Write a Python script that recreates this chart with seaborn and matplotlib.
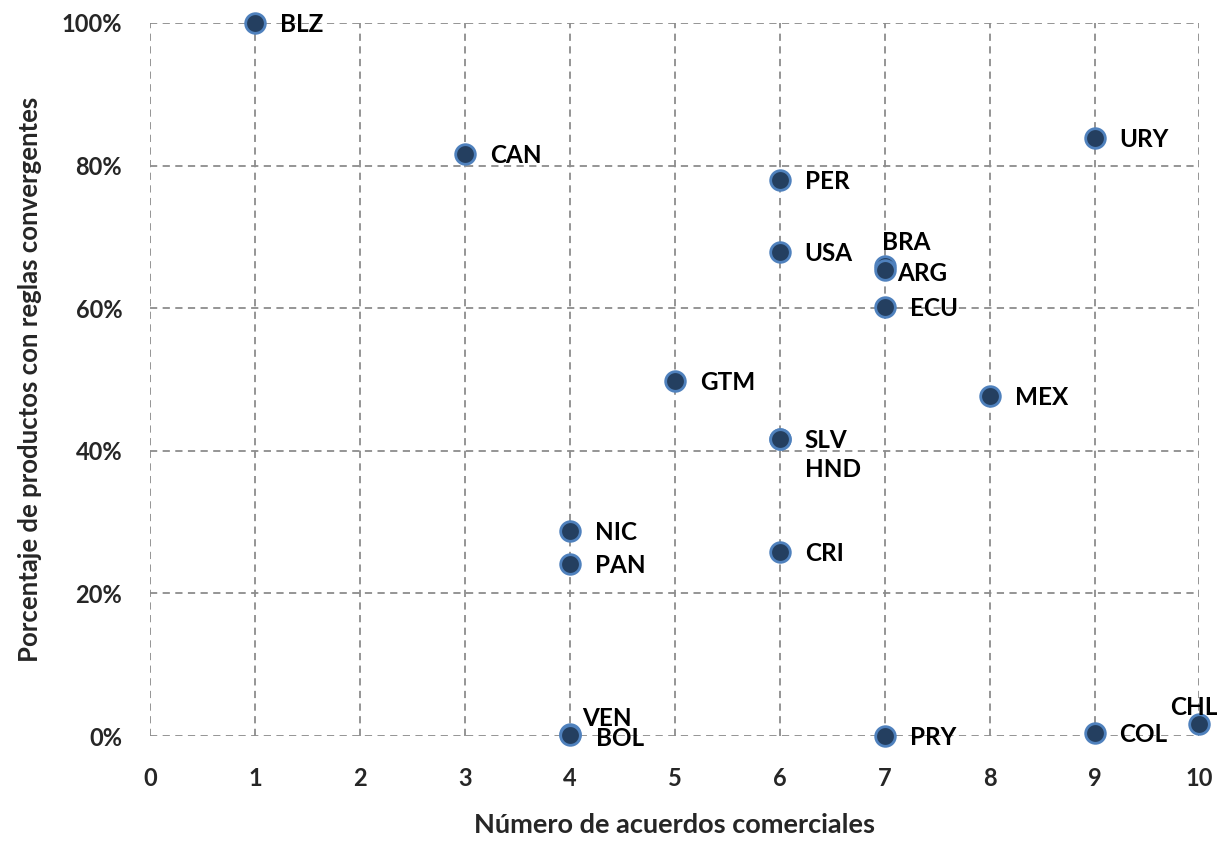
import numpy as np
import pandas as pd
import matplotlib
matplotlib.use("Agg")
import matplotlib.pyplot as plt
import seaborn as sns

# --- data ---
paises = ["BLZ", "CAN", "URY", "PER", "USA", "BRA", "ARG", "ECU", "GTM", "MEX",
          "SLV", "HND", "NIC", "PAN", "CRI", "VEN", "BOL", "PRY", "COL", "CHL"]
acuerdos = [1, 3, 9, 6, 6, 7, 7, 7, 5, 8,
            6, 6, 4, 4, 6, 4, 4, 7, 9, 10]
porcentaje = [1.00, 0.816, 0.839, 0.780, 0.679, 0.659, 0.654, 0.602, 0.498, 0.477,
              0.417, 0.417, 0.288, 0.241, 0.258, 0.003, 0.002, 0.000, 0.004, 0.017]

x_ticks = list(range(0, 11))
y_ticks = [0, 0.2, 0.4, 0.6, 0.8, 1.0]
y_ticklabels = ["0%", "20%", "40%", "60%", "80%", "100%"]

# label offsets (points) - default is to the right of the marker
offsets = {
    "BRA": (-2, 17),
    "ARG": (9, -3),
    "VEN": (9, 11),
    "BOL": (19, -3),
    "HND": (18, -22),
    "CHL": (-21, 12),
}
default_offset = (18, -1)

df = pd.DataFrame({"pais": paises, "acuerdos": acuerdos, "porcentaje": porcentaje})

sns.set_style("white")
plt.rcParams["font.family"] = ["Lato", "DejaVu Sans"]

fig = plt.figure(figsize=(12.19, 8.48), dpi=100)
ax = fig.add_axes([0.123, 0.132, 0.861, 0.841])

sns.scatterplot(data=df, x="acuerdos", y="porcentaje", ax=ax,
                s=200, color="#243F60", edgecolor="#4F81BD", linewidth=2,
                zorder=3, clip_on=False)

for p, xv, yv in zip(paises, acuerdos, porcentaje):
    dx, dy = offsets.get(p, default_offset)
    ax.annotate(p, (xv, yv), xytext=(dx, dy), textcoords="offset points",
                ha="left", va="center", fontsize=17.5, fontweight="bold",
                color="black", zorder=4, annotation_clip=False)

ax.set_xlim(0, 10)
ax.set_ylim(0, 1)
ax.set_xticks(x_ticks)
ax.set_yticks(y_ticks)
ax.set_yticklabels(y_ticklabels)
ax.tick_params(axis="both", labelsize=17, length=0)
ax.tick_params(axis="x", pad=22)
ax.tick_params(axis="y", pad=20)
for lab in ax.get_xticklabels() + ax.get_yticklabels():
    lab.set_fontweight("bold")

ax.grid(True, linestyle=(0, (4, 3)), color="#8c8c8c", linewidth=1.3)
ax.set_axisbelow(True)
for s in ax.spines.values():
    s.set_visible(False)

ax.set_xlabel("Número de acuerdos comerciales", fontsize=19.5, fontweight="bold", labelpad=17)
ax.set_ylabel("Porcentaje de productos con reglas convergentes", fontsize=18.5,
              fontweight="bold", labelpad=14)

fig.savefig("out.png", dpi=100)
